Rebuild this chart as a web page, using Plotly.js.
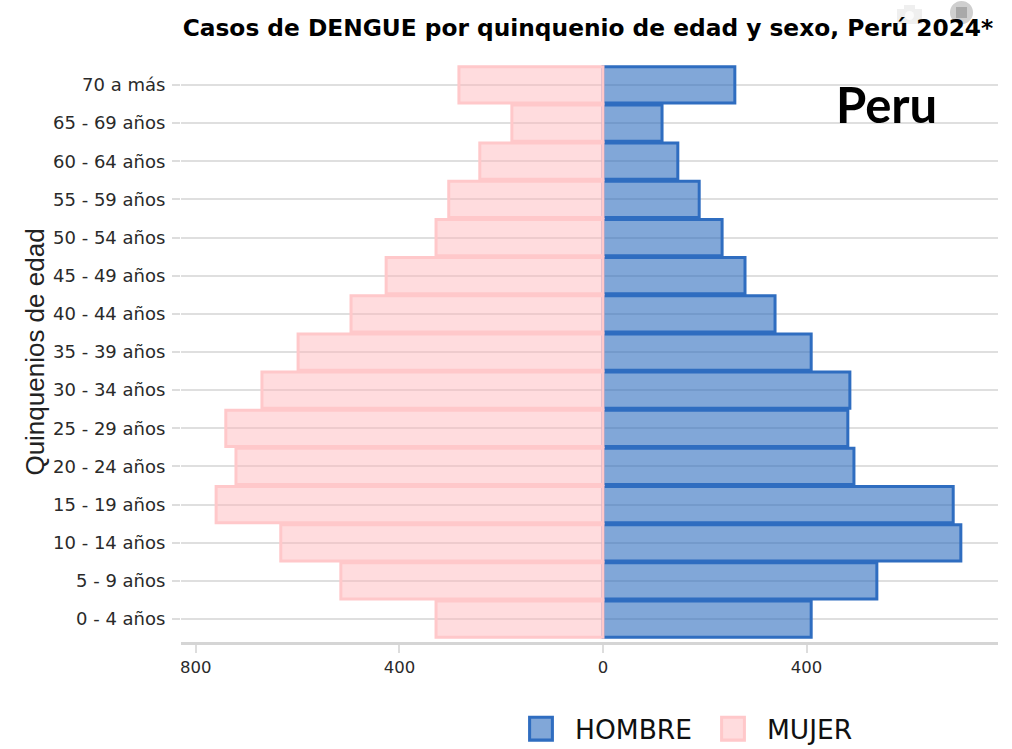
<!DOCTYPE html>
<html><head><meta charset="utf-8">
<script src="https://cdn.plot.ly/plotly-3.0.1.min.js"></script>
<style>html,body{margin:0;padding:0;background:#fff}</style></head>
<body><div id="chart" style="width:1012px;height:749px"></div>
<script>
const ageGroups = ["0 - 4 años","5 - 9 años","10 - 14 años","15 - 19 años","20 - 24 años","25 - 29 años","30 - 34 años","35 - 39 años","40 - 44 años","45 - 49 años","50 - 54 años","55 - 59 años","60 - 64 años","65 - 69 años","70 a más"];
const hombre = [409,538,703,688,493,481,485,409,338,279,234,189,147,116,259];
const mujer  = [328,515,633,760,721,741,670,599,495,426,328,303,242,179,283];
const tickVals = [-800,-400,0,400];
const tickText = ["800","400","0","400"];
const W=1012,H=749,L=181,R=998,T=62,B=642;
const px=v=>(v-L)/(R-L), py=v=>(B-v)/(B-T);
const box=(type,x0,y0,x1,y1,fill)=>({type,xref:"paper",yref:"paper",x0:px(x0),x1:px(x1),y0:py(y1),y1:py(y0),fillcolor:fill,line:{width:0},layer:"below"});
const base = {type:"bar",orientation:"h",y:ageGroups};
const traces = [
 {...base,name:"HOMBRE",x:hombre,marker:{color:"rgba(45,108,190,0.6)",line:{color:"#2F6DC0",width:3}}},
 {...base,name:"MUJER",x:mujer.map(v=>-v),marker:{color:"rgba(255,182,186,0.48)",line:{color:"#FFC8CA",width:3}}}
];
const layout = {
 width:W,height:H,paper_bgcolor:"#fff",plot_bgcolor:"#fff",
 margin:{l:L,r:W-R,t:T,b:H-B,autoexpand:false},
 barmode:"overlay",bargap:0.05,
 font:{family:"DejaVu Sans, Verdana, sans-serif",color:"#2a2a2a"},
 title:{text:"<b>Casos de DENGUE por quinquenio de edad y sexo, Perú 2024*</b>",font:{size:23.3,color:"#000",family:"DejaVu Sans"},x:0.581,xanchor:"center",y:0.963,yanchor:"middle"},
 xaxis:{range:[-829,776],tickvals:tickVals,ticktext:tickText,tickfont:{size:16.5,color:"#2a2a2a"},ticks:"outside",ticklen:8,tickcolor:"#ddd",tickwidth:1.5,showgrid:false,zeroline:false,showline:true,linecolor:"#d5d5d5",linewidth:3},
 yaxis:{type:"category",categoryorder:"array",categoryarray:ageGroups,range:[-0.6,14.6],tickfont:{size:18,color:"#2a2a2a"},ticks:"outside",ticklen:8,tickcolor:"#ddd",tickwidth:1.5,ticklabelstandoff:3,showgrid:true,gridcolor:"rgba(185,185,185,0.45)",gridwidth:2.2,zeroline:false,layer:"above traces",
  title:{text:"Quinquenios de edad",font:{size:26,family:"Liberation Sans, Arial",color:"#222"},standoff:0}},
 showlegend:true,
 legend:{orientation:"h",x:px(521),xanchor:"left",y:py(729),yanchor:"middle",font:{size:26.5,color:"#111"},traceorder:"normal",itemwidth:44,entrywidth:133,itemclick:false,itemdoubleclick:false},
 annotations:[{text:"<b>Peru</b>",xref:"paper",yref:"paper",x:px(886),y:py(104),showarrow:false,font:{size:49,family:"Lato, Noto Sans",color:"#000"},xanchor:"center",yanchor:"middle"}],
 shapes:[
  box("rect",897,9,922,24,"#efefef"),
  box("rect",904,5,915,10,"#efefef"),
  box("circle",905,11,914,20,"#fbfbfb"),
  box("circle",950,1,973,24,"#cfcfcf"),
  box("rect",956,7,967,18,"#a9a9a9")
 ]
};
Plotly.newPlot("chart",traces,layout,{displayModeBar:false,responsive:false}).then(gd=>{
 document.querySelectorAll(".legendpoints path").forEach(p=>{p.setAttribute("transform","translate(20,0) scale(1.9)");p.style.strokeWidth="1.6px";});
});
</script></body></html>
